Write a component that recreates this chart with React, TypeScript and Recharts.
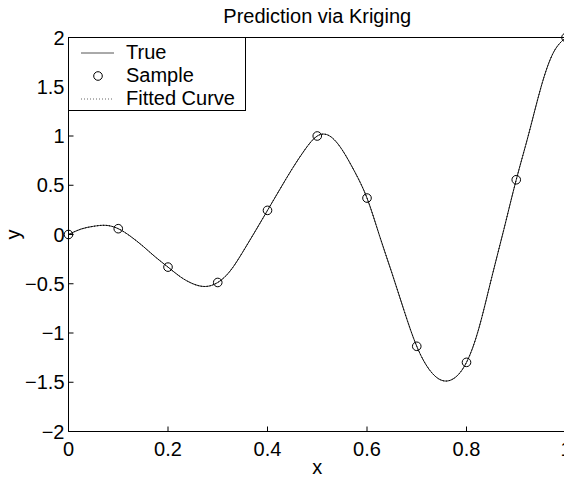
import { ComposedChart, Line, Scatter, XAxis, YAxis, Legend } from "recharts";

const FONT = '"Liberation Sans", Arial, Helvetica, sans-serif';

// curve every 0.025
const xs = [
  0, 0.025, 0.05, 0.075, 0.1, 0.125, 0.15, 0.175, 0.2, 0.225, 0.25, 0.275, 0.3, 0.325,
  0.35, 0.375, 0.4, 0.425, 0.45, 0.475, 0.5, 0.525, 0.55, 0.575, 0.6, 0.625, 0.65,
  0.675, 0.7, 0.725, 0.75, 0.775, 0.8, 0.825, 0.85, 0.875, 0.9, 0.925, 0.95, 0.975, 1,
];
const trueY = [
  0, 0.055, 0.083, 0.093, 0.059, -0.02, -0.12, -0.23, -0.331, -0.43, -0.5, -0.528, -0.487,
  -0.37, -0.18, 0.03, 0.245, 0.46, 0.67, 0.86, 1.0, 1.0, 0.86, 0.64, 0.37, -0.01, -0.39,
  -0.78, -1.135, -1.37, -1.48, -1.46, -1.298, -0.95, -0.45, 0.05, 0.556, 1.02, 1.5, 1.85, 2.0,
];
const fittedY = [
  0, 0.055, 0.083, 0.093, 0.059, -0.02, -0.12, -0.23, -0.331, -0.43, -0.5, -0.528, -0.487,
  -0.37, -0.18, 0.03, 0.245, 0.46, 0.67, 0.86, 1.0, 1.0, 0.86, 0.64, 0.37, -0.01, -0.39,
  -0.78, -1.135, -1.37, -1.48, -1.46, -1.298, -0.95, -0.45, 0.05, 0.556, 1.02, 1.5, 1.85, 2.0,
];

const sampleX = [0, 0.1, 0.2, 0.3, 0.4, 0.5, 0.6, 0.7, 0.8, 0.9, 1];
const sampleY = [0, 0.059, -0.331, -0.487, 0.245, 1.0, 0.37, -1.135, -1.298, 0.556, 2.0];

const xTicks = [0, 0.2, 0.4, 0.6, 0.8, 1];
const yTicks = [-2, -1.5, -1, -0.5, 0, 0.5, 1, 1.5, 2];
const legendLabels = ["True", "Sample", "Fitted Curve"];

const data = xs.map((x, i) => ({ x, t: trueY[i], f: fittedY[i] }));
const samples = sampleX.map((x, i) => ({ x, y: sampleY[i] }));

const fmt = (v: number) => (v < 0 ? "\u2212" + String(-v) : String(v));

const txt = { fontSize: 20, fontFamily: FONT, fill: "#000" };

function BottomTick({ x, y, payload }: any) {
  return (
    <g>
      <line x1={x} x2={x} y1={y} y2={y - 5} stroke="#000" />
      <text x={x} y={y + 24} textAnchor="middle" {...txt}>
        {fmt(payload.value)}
      </text>
    </g>
  );
}

function LeftTick({ x, y, payload }: any) {
  return (
    <g>
      <line x1={x} x2={x + 5} y1={y} y2={y} stroke="#000" />
      <text x={x - 4} y={y + 7} textAnchor="end" {...txt}>
        {fmt(payload.value)}
      </text>
    </g>
  );
}

function TopTick({ x, y }: any) {
  return <line x1={x} x2={x} y1={y} y2={y + 5} stroke="#000" />;
}

function RightTick({ x, y }: any) {
  return <line x1={x} x2={x - 5} y1={y} y2={y} stroke="#000" />;
}

function TitleLabel({ viewBox }: any) {
  return (
    <text
      x={viewBox.x + viewBox.width / 2}
      y={viewBox.y + viewBox.height - 15}
      textAnchor="middle"
      {...txt}
    >
      Prediction via Kriging
    </text>
  );
}

function XLabel({ viewBox }: any) {
  return (
    <text x={viewBox.x + viewBox.width / 2} y={viewBox.y + 42} textAnchor="middle" {...txt}>
      x
    </text>
  );
}

function YLabel({ viewBox }: any) {
  const cx = 20;
  const cy = viewBox.y + viewBox.height / 2;
  return (
    <text x={cx} y={cy} textAnchor="middle" transform={`rotate(-90 ${cx} ${cy})`} {...txt}>
      y
    </text>
  );
}

function LegendBox() {
  const rows = [22, 45, 68];
  return (
    <div
      style={{
        width: 178,
        height: 74,
        boxSizing: "border-box",
        border: "1px solid #000",
        background: "#fff",
      }}
    >
      <svg width={176} height={72} style={{ display: "block" }}>
        <line x1={12} x2={45} y1={rows[0] - 7} y2={rows[0] - 7} stroke="#555" />
        <circle cx={29} cy={rows[1] - 7} r={4.3} fill="none" stroke="#000" />
        <line
          x1={12}
          x2={45}
          y1={rows[2] - 7}
          y2={rows[2] - 7}
          stroke="#666"
          strokeDasharray="1 2"
        />
        {legendLabels.map((l, i) => (
          <text key={l} x={57} y={rows[i] - 1} {...txt}>
            {l}
          </text>
        ))}
      </svg>
    </div>
  );
}

export default function App() {
  return (
    <div
      style={{
        position: "absolute",
        left: 0,
        top: 0,
        width: 564,
        height: 478,
        overflow: "hidden",
        background: "#fff",
      }}
    >
      <ComposedChart
        width={572}
        height={478}
        data={data}
        margin={{ top: 36.5, right: 5, bottom: 0, left: 0 }}
      >
        <XAxis
          dataKey="x"
          type="number"
          domain={[0, 1]}
          ticks={xTicks}
          height={46.5}
          tickSize={0}
          tickMargin={0}
          tickLine={false}
          tick={<BottomTick />}
          axisLine={{ stroke: "#000" }}
          interval={0}
          label={<XLabel />}
        />
        <XAxis
          xAxisId="top"
          orientation="top"
          type="number"
          domain={[0, 1]}
          ticks={xTicks}
          height={1}
          tickSize={0}
          tickMargin={0}
          tickLine={false}
          tick={<TopTick />}
          axisLine={{ stroke: "#000" }}
          interval={0}
          label={<TitleLabel />}
        />
        <YAxis
          type="number"
          domain={[-2, 2]}
          ticks={yTicks}
          width={68.5}
          tickSize={0}
          tickMargin={0}
          tickLine={false}
          tick={<LeftTick />}
          axisLine={{ stroke: "#000" }}
          interval={0}
          label={<YLabel />}
        />
        <YAxis
          yAxisId="right"
          orientation="right"
          type="number"
          domain={[-2, 2]}
          ticks={yTicks}
          width={1}
          tickSize={0}
          tickMargin={0}
          tickLine={false}
          tick={<RightTick />}
          axisLine={{ stroke: "#000" }}
          interval={0}
        />
        <Legend
          layout="vertical"
          align="center"
          verticalAlign="middle"
          wrapperStyle={{ left: 68, top: 37, width: 178, height: 74 }}
          content={<LegendBox />}
        />
        <Line
          dataKey="t"
          type="natural"
          stroke="#222"
          strokeWidth={1}
          dot={false}
          isAnimationActive={false}
        />
        <Line
          dataKey="f"
          type="natural"
          stroke="#000"
          strokeWidth={1}
          strokeDasharray="1 2"
          dot={false}
          isAnimationActive={false}
        />
        <Scatter
          data={samples}
          dataKey="y"
          isAnimationActive={false}
          shape={(p: any) => (
            <circle cx={p.cx} cy={p.cy} r={4.3} fill="none" stroke="#000" />
          )}
        />
      </ComposedChart>
    </div>
  );
}
